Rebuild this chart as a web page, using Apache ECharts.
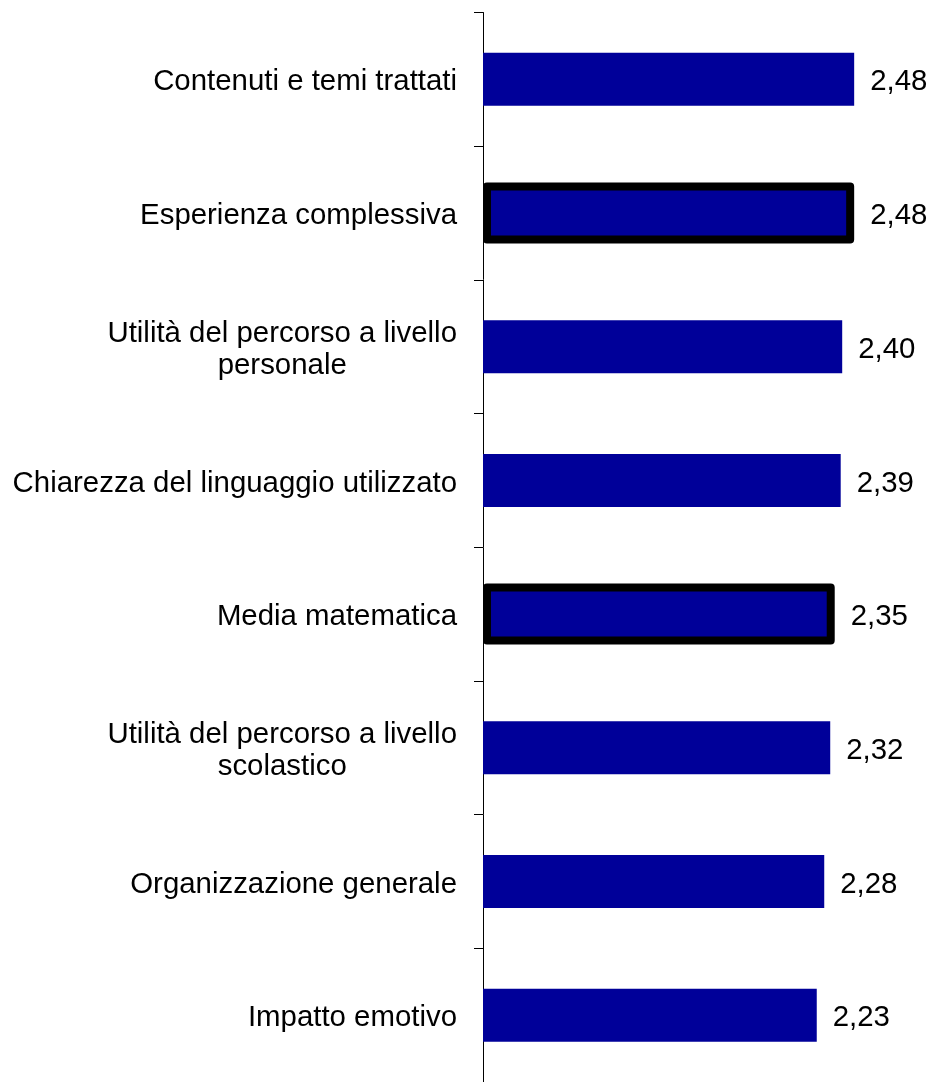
<!DOCTYPE html>
<html>
<head>
<meta charset="utf-8">
<script src="https://cdn.jsdelivr.net/npm/echarts@6/dist/echarts.min.js"></script>
<style>html,body{margin:0;padding:0;background:#fff}#c{width:932px;height:1082px}</style>
</head>
<body>
<div id="c"></div>
<script>
var categories = [
  "Contenuti e temi trattati",
  "Esperienza complessiva",
  "Utilità del percorso a livello\npersonale",
  "Chiarezza del linguaggio utilizzato",
  "Media matematica",
  "Utilità del percorso a livello\nscolastico",
  "Organizzazione generale",
  "Impatto emotivo"
];
var values = [2.48, 2.48, 2.40, 2.39, 2.35, 2.32, 2.28, 2.23];
var highlighted = ["Esperienza complessiva", "Media matematica"];

var chart = echarts.init(document.getElementById('c'), null, {renderer: 'canvas'});
var FONT = 'Liberation Sans, Arial, sans-serif';
var FS = 29.4;
var normalData = values.map(function (v, i) {
  return highlighted.indexOf(categories[i]) >= 0 ? '-' : v;
});
var highData = values.map(function (v, i) {
  return highlighted.indexOf(categories[i]) >= 0 ? v : '-';
});
var valueLabel = {
  show: true,
  position: 'right',
  distance: 16,
  offset: [0, 3],
  fontFamily: FONT,
  fontSize: FS,
  color: '#000',
  formatter: function (p) { return p.value.toFixed(2).replace('.', ','); }
};
chart.setOption({
  animation: false,
  backgroundColor: '#fff',
  grid: {left: 483, top: 12.5, width: 451, height: 1074.5, containLabel: false},
  xAxis: {
    type: 'value', min: 0, max: 3, show: false
  },
  yAxis: [{
    type: 'category',
    inverse: true,
    data: categories,
    axisLine: {show: true, lineStyle: {color: '#000', width: 1}},
    axisTick: {show: true, length: 9, lineStyle: {color: '#000', width: 1}},
    axisLabel: {
      margin: 26,
      fontFamily: FONT,
      fontSize: FS,
      color: '#000',
      lineHeight: 32,
      padding: [6, 0, 0, 0],
      formatter: function (v) {
        return v.split('\n').map(function (l) { return '{c|' + l + '}'; }).join('\n');
      },
      rich: {c: {align: 'center', fontFamily: FONT, fontSize: FS, color: '#000', lineHeight: 32}}
    },
    splitLine: {show: false}
  }, {
    type: 'category',
    inverse: true,
    position: 'left',
    data: categories,
    show: false
  }],
  series: [{
    type: 'bar',
    yAxisIndex: 0,
    data: normalData,
    barWidth: 53,
    itemStyle: {color: '#000099'},
    label: valueLabel
  }, {
    type: 'bar',
    yAxisIndex: 1,
    data: highData,
    barWidth: 61,
    itemStyle: {color: '#000099', borderColor: '#000', borderWidth: 8, borderJoin: 'round'},
    label: valueLabel
  }]
});
</script>
</body>
</html>
